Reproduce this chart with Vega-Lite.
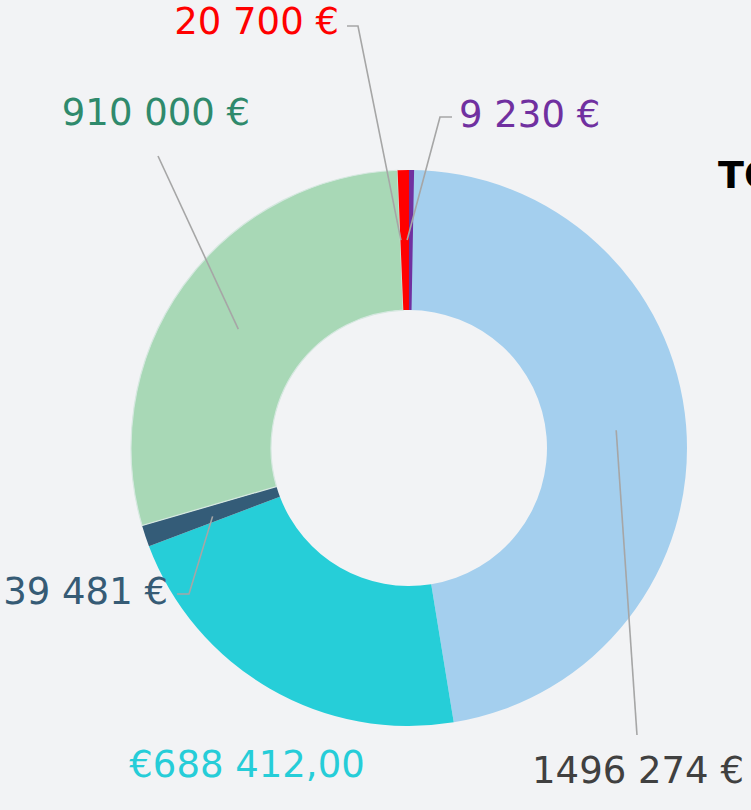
{
  "$schema": "https://vega.github.io/schema/vega-lite/v6.json",
  "width": 751,
  "height": 810,
  "autosize": {"type": "none"},
  "padding": 0,
  "background": "#f2f3f5",
  "config": {"view": {"stroke": null}, "font": "DejaVu Sans"},
  "datasets": {
    "slices": [
      {"name": "A", "value": 1496274, "order": 1},
      {"name": "B", "value": 688412, "order": 2},
      {"name": "C", "value": 39481, "order": 3},
      {"name": "D", "value": 910000, "order": 4},
      {"name": "E", "value": 20700, "order": 5},
      {"name": "F", "value": 9230, "order": 6}
    ],
    "leaders": [
      {"id": "E", "i": 0, "x": -2.91, "y": 74.75},
      {"id": "E", "i": 1, "x": -18.35, "y": 151.8},
      {"id": "E", "i": 2, "x": -22.3, "y": 151.8},
      {"id": "F", "i": 0, "x": -0.68, "y": 74.82},
      {"id": "F", "i": 1, "x": 11.15, "y": 119.06},
      {"id": "F", "i": 2, "x": 15.47, "y": 119.06},
      {"id": "D", "i": 0, "x": -61.4, "y": 42.73},
      {"id": "D", "i": 1, "x": -90.29, "y": 105.04},
      {"id": "C", "i": 0, "x": -70.65, "y": -24.6},
      {"id": "C", "i": 1, "x": -79.14, "y": -52.52},
      {"id": "C", "i": 2, "x": -83.45, "y": -52.52},
      {"id": "A", "i": 0, "x": 74.53, "y": 6.37},
      {"id": "A", "i": 1, "x": 82.01, "y": -103.24}
    ],
    "labels": [
      {"name": "E", "label": "20 700 €", "x": -25.18, "y": 152.7},
      {"name": "F", "label": "9 230 €", "x": 17.99, "y": 119.42},
      {"name": "D", "label": "910 000 €", "x": -91.01, "y": 120.14},
      {"name": "C", "label": "39 481 €", "x": -86.69, "y": -52.16},
      {"name": "B", "label": "€688 412,00", "x": -58.27, "y": -114.39},
      {"name": "A", "label": "1496 274 €", "x": 82.37, "y": -116.55}
    ],
    "total": [
      {"label": "TOTAL : 3 164 097 €", "x": 111.15, "y": 97.48}
    ]
  },
  "layer": [
    {
      "data": {"name": "slices"},
      "transform": [
        {"stack": "value", "groupby": [], "sort": [{"field": "order", "order": "ascending"}], "as": ["v0", "v1"]}
      ],
      "mark": {"type": "arc", "outerRadius": 278, "innerRadius": 138, "stroke": "#d6e8e0"},
      "encoding": {
        "x": {"datum": 0, "type": "quantitative", "scale": {"domain": [-147.12, 123.02], "nice": false, "zero": false}, "axis": null},
        "y": {"datum": 0, "type": "quantitative", "scale": {"domain": [-130.22, 161.15], "nice": false, "zero": false}, "axis": null},
        "theta": {"field": "v0", "type": "quantitative"},
        "theta2": {"field": "v1"},
        "color": {
          "field": "name", "type": "nominal", "legend": null,
          "scale": {"domain": ["A", "B", "C", "D", "E", "F"], "range": ["#a4cfee", "#26ced8", "#345c78", "#a8d8b6", "#ff0000", "#7030a0"]}
        },
        "strokeWidth": {"condition": {"test": "datum.name === 'D'", "value": 1.2}, "value": 0}
      }
    },
    {
      "data": {"name": "leaders"},
      "mark": {"type": "line", "color": "#a6a6a6", "strokeWidth": 1.6},
      "encoding": {
        "x": {"field": "x", "type": "quantitative", "scale": {"domain": [-147.12, 123.02], "nice": false, "zero": false}, "axis": null},
        "y": {"field": "y", "type": "quantitative", "scale": {"domain": [-130.22, 161.15], "nice": false, "zero": false}, "axis": null},
        "detail": {"field": "id"},
        "order": {"field": "i", "type": "quantitative"}
      }
    },
    {
      "data": {"name": "labels"},
      "transform": [{"filter": {"field": "name", "oneOf": ["E", "C"]}}],
      "mark": {"type": "text", "fontSize": 37, "align": "right", "baseline": "middle"},
      "encoding": {
        "x": {"field": "x", "type": "quantitative", "scale": {"domain": [-147.12, 123.02], "nice": false, "zero": false}, "axis": null},
        "y": {"field": "y", "type": "quantitative", "scale": {"domain": [-130.22, 161.15], "nice": false, "zero": false}, "axis": null},
        "text": {"field": "label"},
        "color": {
          "field": "name", "type": "nominal", "legend": null,
          "scale": {"domain": ["A", "B", "C", "D", "E", "F"], "range": ["#404040", "#26cdd8", "#365b75", "#2f8a6c", "#ff0000", "#7030a0"]}
        }
      }
    },
    {
      "data": {"name": "labels"},
      "transform": [{"filter": {"field": "name", "oneOf": ["F"]}}],
      "mark": {"type": "text", "fontSize": 37, "align": "left", "baseline": "middle"},
      "encoding": {
        "x": {"field": "x", "type": "quantitative", "scale": {"domain": [-147.12, 123.02], "nice": false, "zero": false}, "axis": null},
        "y": {"field": "y", "type": "quantitative", "scale": {"domain": [-130.22, 161.15], "nice": false, "zero": false}, "axis": null},
        "text": {"field": "label"},
        "color": {
          "field": "name", "type": "nominal", "legend": null,
          "scale": {"domain": ["A", "B", "C", "D", "E", "F"], "range": ["#404040", "#26cdd8", "#365b75", "#2f8a6c", "#ff0000", "#7030a0"]}
        }
      }
    },
    {
      "data": {"name": "labels"},
      "transform": [{"filter": {"field": "name", "oneOf": ["A", "B", "D"]}}],
      "mark": {"type": "text", "fontSize": 37, "align": "center", "baseline": "middle"},
      "encoding": {
        "x": {"field": "x", "type": "quantitative", "scale": {"domain": [-147.12, 123.02], "nice": false, "zero": false}, "axis": null},
        "y": {"field": "y", "type": "quantitative", "scale": {"domain": [-130.22, 161.15], "nice": false, "zero": false}, "axis": null},
        "text": {"field": "label"},
        "color": {
          "field": "name", "type": "nominal", "legend": null,
          "scale": {"domain": ["A", "B", "C", "D", "E", "F"], "range": ["#404040", "#26cdd8", "#365b75", "#2f8a6c", "#ff0000", "#7030a0"]}
        }
      }
    },
    {
      "data": {"name": "total"},
      "mark": {"type": "text", "fontSize": 38, "fontWeight": "bold", "align": "left", "baseline": "middle", "color": "#000000"},
      "encoding": {
        "x": {"field": "x", "type": "quantitative", "scale": {"domain": [-147.12, 123.02], "nice": false, "zero": false}, "axis": null},
        "y": {"field": "y", "type": "quantitative", "scale": {"domain": [-130.22, 161.15], "nice": false, "zero": false}, "axis": null},
        "text": {"field": "label"}
      }
    }
  ],
  "resolve": {"scale": {"color": "independent"}}
}
